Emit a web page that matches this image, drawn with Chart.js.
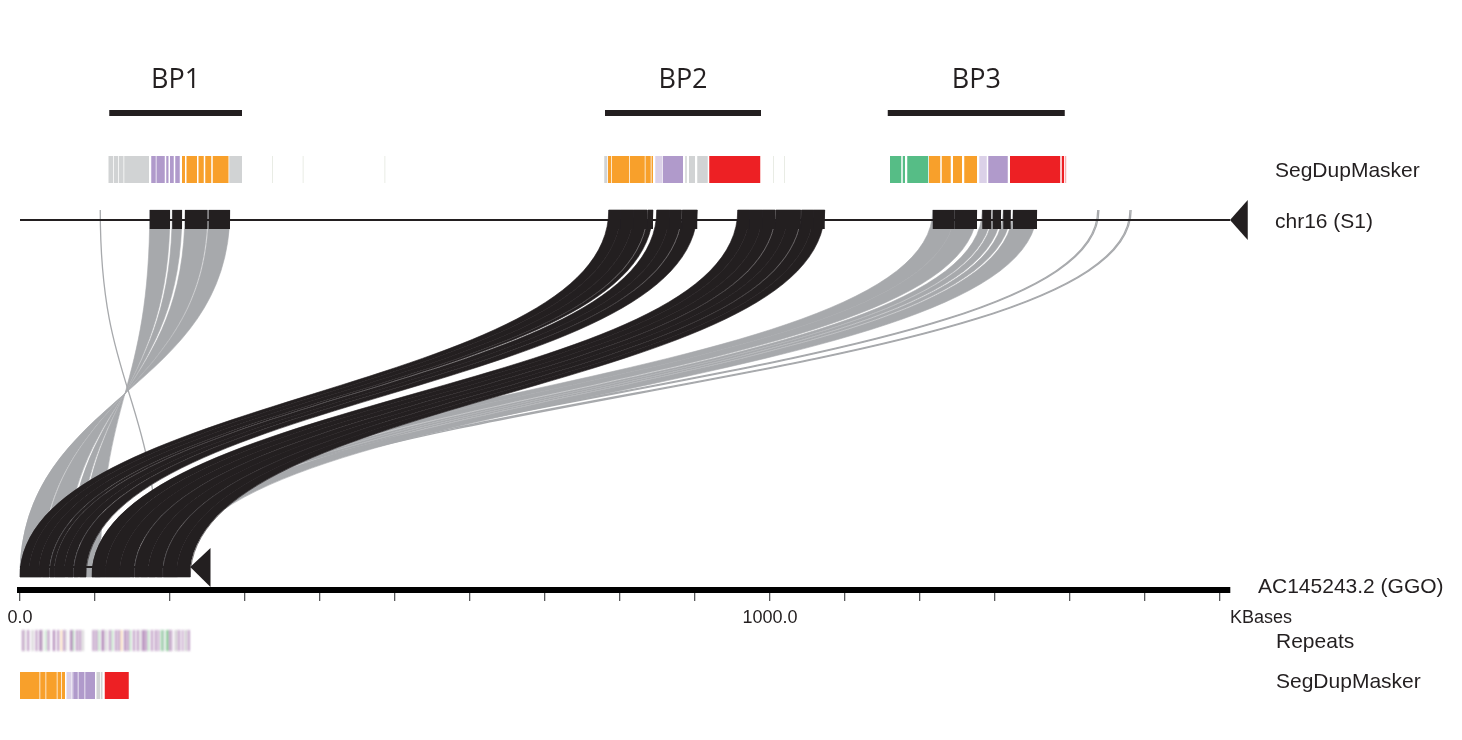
<!DOCTYPE html>
<html>
<head>
<meta charset="utf-8">
<script src="https://cdn.jsdelivr.net/npm/chart.js@4.4.0/dist/chart.umd.min.js"></script>
<style>
  html, body { margin: 0; padding: 0; background: #fff; }
</style>
</head>
<body>
<canvas id="c" width="1462" height="740"></canvas>
<script>
// all positions in KBases

// breakpoint bars
const bpLabels = ['BP1', 'BP2', 'BP3'];
const bpStart = [119, 780, 1157];
const bpEnd = [296, 988, 1393];

// x axis tick labels that are printed
const tickLabelValues = [0, 1000];

// alignments chr16 -> AC145243.2 (k = black, g = grey; inv = inverted)
const alnTopStart = [
  785, 801, 818, 837, 849, 866, 883,
  957, 973, 990, 1008, 1024, 1042, 1058,
  173, 203, 220, 251.5,
  1217, 1246, 1283, 1297, 1311, 1324
];
const alnTopEnd = [
  801, 818, 836, 844, 866, 882, 903,
  973, 990, 1007, 1024, 1041, 1058, 1073,
  200, 216, 250, 280,
  1246, 1276, 1295, 1308, 1321, 1356
];
const alnBotStart = [
  0, 12, 25, 40, 46, 59, 72,
  96, 114, 133, 153, 171, 191, 209,
  80, 64, 30, 0,
  100, 123, 150, 161, 172, 183
];
const alnBotEnd = [
  12, 25, 39, 45.5, 59, 71, 88,
  114, 133, 152, 171, 190, 209, 227,
  107, 77, 60, 28.5,
  123, 147, 159, 170, 180, 210
];
const alnColor = [
  'k','k','k','k','k','k','k',
  'k','k','k','k','k','k','k',
  'g','g','g','g',
  'g','g','g','g','g','g'
];
const alnInv = [
  0,0,0,0,0,0,0,
  0,0,0,0,0,0,0,
  1,1,1,1,
  0,0,0,0,0,0
];

// single thin alignments
const lineTop = [107, 1437, 1438.5, 1480, 1481.5];
const lineBot = [184, 140, 150, 156, 166];

// SegDupMasker on chr16
const sdmTopStart = [118, 125, 132, 139, 175, 182, 195, 200, 207, 216, 222, 238, 247, 257, 279, 336, 377, 486,
  779, 784, 789, 813, 834, 842, 847, 857, 887, 892, 903, 919, 1004, 1019,
  1160, 1177, 1183, 1212, 1229, 1244, 1259, 1279, 1291, 1320, 1389, 1393];
const sdmTopEnd = [124, 131, 138, 172, 181, 193, 198, 205, 213, 220, 236, 245, 255, 278, 296, 337, 378, 487,
  783, 788, 812, 833, 841, 844, 856, 884, 889, 900, 917, 987, 1005, 1020,
  1175, 1180, 1211, 1227, 1241, 1256, 1276, 1289, 1317, 1387, 1392, 1395];
const sdmTopColor = ['G','G','G','G','P','P','P','P','P','O','O','O','O','O','G','f','f','f',
  'G','O','O','O','O','O','p','P','G','G','G','R','f','f',
  'N','N','N','O','O','O','O','p','P','R','R','r'];

// SegDupMasker on AC145243.2
const sdmBotStart = [0, 27, 35, 50, 56, 62, 69, 71, 78, 87, 102, 108, 113];
const sdmBotEnd = [26, 34, 49, 55, 60, 68, 70, 77, 86, 100, 107, 110, 145];
const sdmBotColor = ['O','O','O','O','O','p','P','P','P','P','G','G','R'];

// Repeats on AC145243.2
const repeatPos = [3, 6, 10, 16, 21, 26, 29, 34, 37, 44, 50, 55, 58, 61, 67, 71, 75, 79, 83,
  97, 101, 105, 109, 114, 119, 123, 127, 131, 135, 139, 143, 147, 151, 156, 160, 163, 167,
  171, 175, 180, 184, 188, 191, 195, 199, 202, 207, 211, 216, 220, 224];
const repeatLen = [2, 1, 2, 1.5, 2, 3, 1, 1, 2, 2.5, 2, 1, 2, 1, 3, 1, 2, 2, 1.5,
  2, 2, 1, 3, 1.5, 2, 1, 2, 2, 1, 2.5, 2, 1, 2, 2, 1, 3, 2,
  1, 2, 2, 1.5, 2, 1, 3, 2, 1, 2, 2, 1.5, 2, 2];
const repeatColor = ['p','g','p','g','p','p','g','n','p','p','p','o','p','g','p','n','p','p','g',
  'p','p','n','p','g','p','n','p','p','o','p','p','n','p','p','g','p',
  'p','n','p','p','p','n','d','n','p','p','g','p','p','g','p'];

// track labels
const trackLabels = ['SegDupMasker', 'chr16 (S1)', 'AC145243.2 (GGO)', 'Repeats', 'SegDupMasker'];

// ---- styles / layout (y values are in plot units, 0 at top) ----
const AXIS_MAX = 1613.33;
const ROW = {
  bpText: 80, bpBar: 113,
  sdmTop: [156, 183],
  chrTop: 220, tickTop: [210, 229],
  ribTop: 210, ribBot: 577,
  chrBot: 567, tickBot: [567, 577],
  arrowTop: [200, 240], arrowBot: [548, 587],
  repeats: [628, 653],
  sdmBot: [672, 699]
};
const LABEL_BASE = [177, 228, 593, 648, 688];
const LABEL_DX = [45, 45, 28, 46, 46];
const INK = '#231f20';
const GREY = '#a7a9ac';
const SDM_COLORS = {
  G: '#d1d3d4', O: '#f8a02b', P: '#b09acb', p: 'rgba(176,154,203,0.45)',
  R: '#ed2024', r: 'rgba(237,32,36,0.35)', N: '#56bd86', f: 'rgba(190,200,180,0.45)'
};
const REP_COLORS = { p: 'rgba(140,80,150,0.8)', g: 'rgba(150,140,150,0.7)', n: 'rgba(80,175,100,0.8)',
  o: 'rgba(240,155,60,0.8)', d: 'rgba(60,125,95,0.8)' };
const FONT = '"Liberation Sans", Arial, Helvetica, sans-serif';

const synteny = {
  id: 'synteny',
  afterDraw(chart) {
    const ctx = chart.ctx;
    const xs = chart.scales.x, ys = chart.scales.y;
    const X = v => xs.getPixelForValue(v);
    const Y = v => ys.getPixelForValue(v);
    ctx.save();

    const yT = Y(ROW.ribTop), yB = Y(ROW.ribBot), yM = (yT + yB) / 2;

    function ribbon(i) {
      const A1 = X(alnTopStart[i]), A2 = X(alnTopEnd[i]);
      let B1 = X(alnBotStart[i]), B2 = X(alnBotEnd[i]);
      if (alnInv[i]) { const t = B1; B1 = B2; B2 = t; }
      const col = alnColor[i] === 'k' ? INK : GREY;
      ctx.beginPath();
      ctx.moveTo(A1, yT);
      ctx.bezierCurveTo(A1, yM, B1, yM, B1, yB);
      ctx.lineTo(B2, yB);
      ctx.bezierCurveTo(B2, yM, A2, yM, A2, yT);
      ctx.closePath();
      ctx.fillStyle = col;
      ctx.fill();
      // thin stroke in same colour hides anti-aliasing seams between abutting ribbons
      ctx.strokeStyle = col;
      ctx.lineWidth = 0.6;
      ctx.stroke();
    }

    // grey ribbons first, then thin lines, then black on top
    alnColor.forEach((c, i) => { if (c === 'g') ribbon(i); });
    ctx.strokeStyle = GREY;
    ctx.lineWidth = 1.3;
    lineTop.forEach((t, i) => {
      const A = X(t), B = X(lineBot[i]);
      ctx.beginPath();
      ctx.moveTo(A, yT);
      ctx.bezierCurveTo(A, yM, B, yM, B, yB);
      ctx.stroke();
    });
    alnColor.forEach((c, i) => { if (c === 'k') ribbon(i); });

    // chr16 line + arrow
    ctx.strokeStyle = INK;
    ctx.fillStyle = INK;
    ctx.lineWidth = 2;
    ctx.beginPath();
    ctx.moveTo(X(0), Y(ROW.chrTop));
    ctx.lineTo(X(AXIS_MAX), Y(ROW.chrTop));
    ctx.stroke();
    ctx.beginPath();
    ctx.moveTo(X(AXIS_MAX), Y(ROW.chrTop));
    ctx.lineTo(X(1637), Y(ROW.arrowTop[0]));
    ctx.lineTo(X(1637), Y(ROW.arrowTop[1]));
    ctx.closePath();
    ctx.fill();

    // alignment ticks on chr16
    alnTopStart.forEach((s, i) => {
      ctx.fillRect(X(s), Y(ROW.tickTop[0]), X(alnTopEnd[i]) - X(s), Y(ROW.tickTop[1]) - Y(ROW.tickTop[0]));
    });

    // AC145243.2 line, ticks, arrow
    ctx.beginPath();
    ctx.moveTo(X(0), Y(ROW.chrBot));
    ctx.lineTo(X(227), Y(ROW.chrBot));
    ctx.stroke();
    alnBotStart.forEach((s, i) => {
      if (alnColor[i] !== 'k') return;
      ctx.fillRect(X(s), Y(ROW.tickBot[0]), X(alnBotEnd[i]) - X(s), Y(ROW.tickBot[1]) - Y(ROW.tickBot[0]));
    });
    ctx.beginPath();
    ctx.moveTo(X(227), Y(ROW.chrBot));
    ctx.lineTo(X(254), Y(ROW.arrowBot[0]));
    ctx.lineTo(X(254), Y(ROW.arrowBot[1]));
    ctx.closePath();
    ctx.fill();

    // breakpoint bars + labels
    ctx.font = '27px "Open Sans", "Noto Sans", sans-serif';
    ctx.textAlign = 'center';
    ctx.textBaseline = 'middle';
    bpLabels.forEach((lab, i) => {
      ctx.fillStyle = INK;
      ctx.fillRect(X(bpStart[i]), Y(ROW.bpBar) - 3, X(bpEnd[i]) - X(bpStart[i]), 6);
      ctx.fillText(lab, (X(bpStart[i]) + X(bpEnd[i])) / 2, Y(ROW.bpText));
    });

    // SegDupMasker tracks
    function segs(starts, ends, cols, row) {
      starts.forEach((s, i) => {
        ctx.fillStyle = SDM_COLORS[cols[i]];
        ctx.fillRect(X(s), Y(row[0]), X(ends[i]) - X(s), Y(row[1]) - Y(row[0]));
      });
    }
    segs(sdmTopStart, sdmTopEnd, sdmTopColor, ROW.sdmTop);
    segs(sdmBotStart, sdmBotEnd, sdmBotColor, ROW.sdmBot);

    // repeats (soft)
    ctx.filter = 'blur(0.8px)';
    repeatPos.forEach((p, i) => {
      ctx.fillStyle = REP_COLORS[repeatColor[i]];
      ctx.fillRect(X(p), Y(ROW.repeats[0]) + 2, X(p + repeatLen[i]) - X(p), Y(ROW.repeats[1]) - Y(ROW.repeats[0]) - 4);
    });
    ctx.filter = 'none';

    // track labels
    ctx.fillStyle = INK;
    ctx.textAlign = 'left';
    ctx.textBaseline = 'alphabetic';
    ctx.font = '21px ' + FONT;
    trackLabels.forEach((t, i) => {
      ctx.fillText(t, xs.right + LABEL_DX[i], Y(LABEL_BASE[i]));
    });
    ctx.font = '18px ' + FONT;
    ctx.fillText('KBases', xs.right, Y(623));

    ctx.restore();
  }
};

new Chart(document.getElementById('c'), {
  type: 'scatter',
  data: { datasets: [] },
  options: {
    responsive: false,
    animation: false,
    layout: { padding: { left: 20, right: 232, top: 0, bottom: 0 } },
    plugins: { legend: { display: false }, tooltip: { enabled: false } },
    scales: {
      x: {
        type: 'linear',
        position: 'bottom',
        min: 0,
        max: AXIS_MAX,
        afterFit: s => { s.height = 150; },
        grid: { drawOnChartArea: false, drawTicks: true, tickLength: 11, color: '#58595b', lineWidth: 1.3 },
        border: { display: true, color: '#000', width: 6 },
        ticks: {
          stepSize: 100,
          includeBounds: false,
          autoSkip: false,
          maxRotation: 0,
          padding: 6,
          color: INK,
          font: { family: FONT, size: 18 },
          callback: v => tickLabelValues.includes(v) ? v.toFixed(1) : ''
        }
      },
      y: { type: 'linear', display: false, min: 0, max: 590, reverse: true }
    }
  },
  plugins: [synteny]
});
</script>
</body>
</html>
